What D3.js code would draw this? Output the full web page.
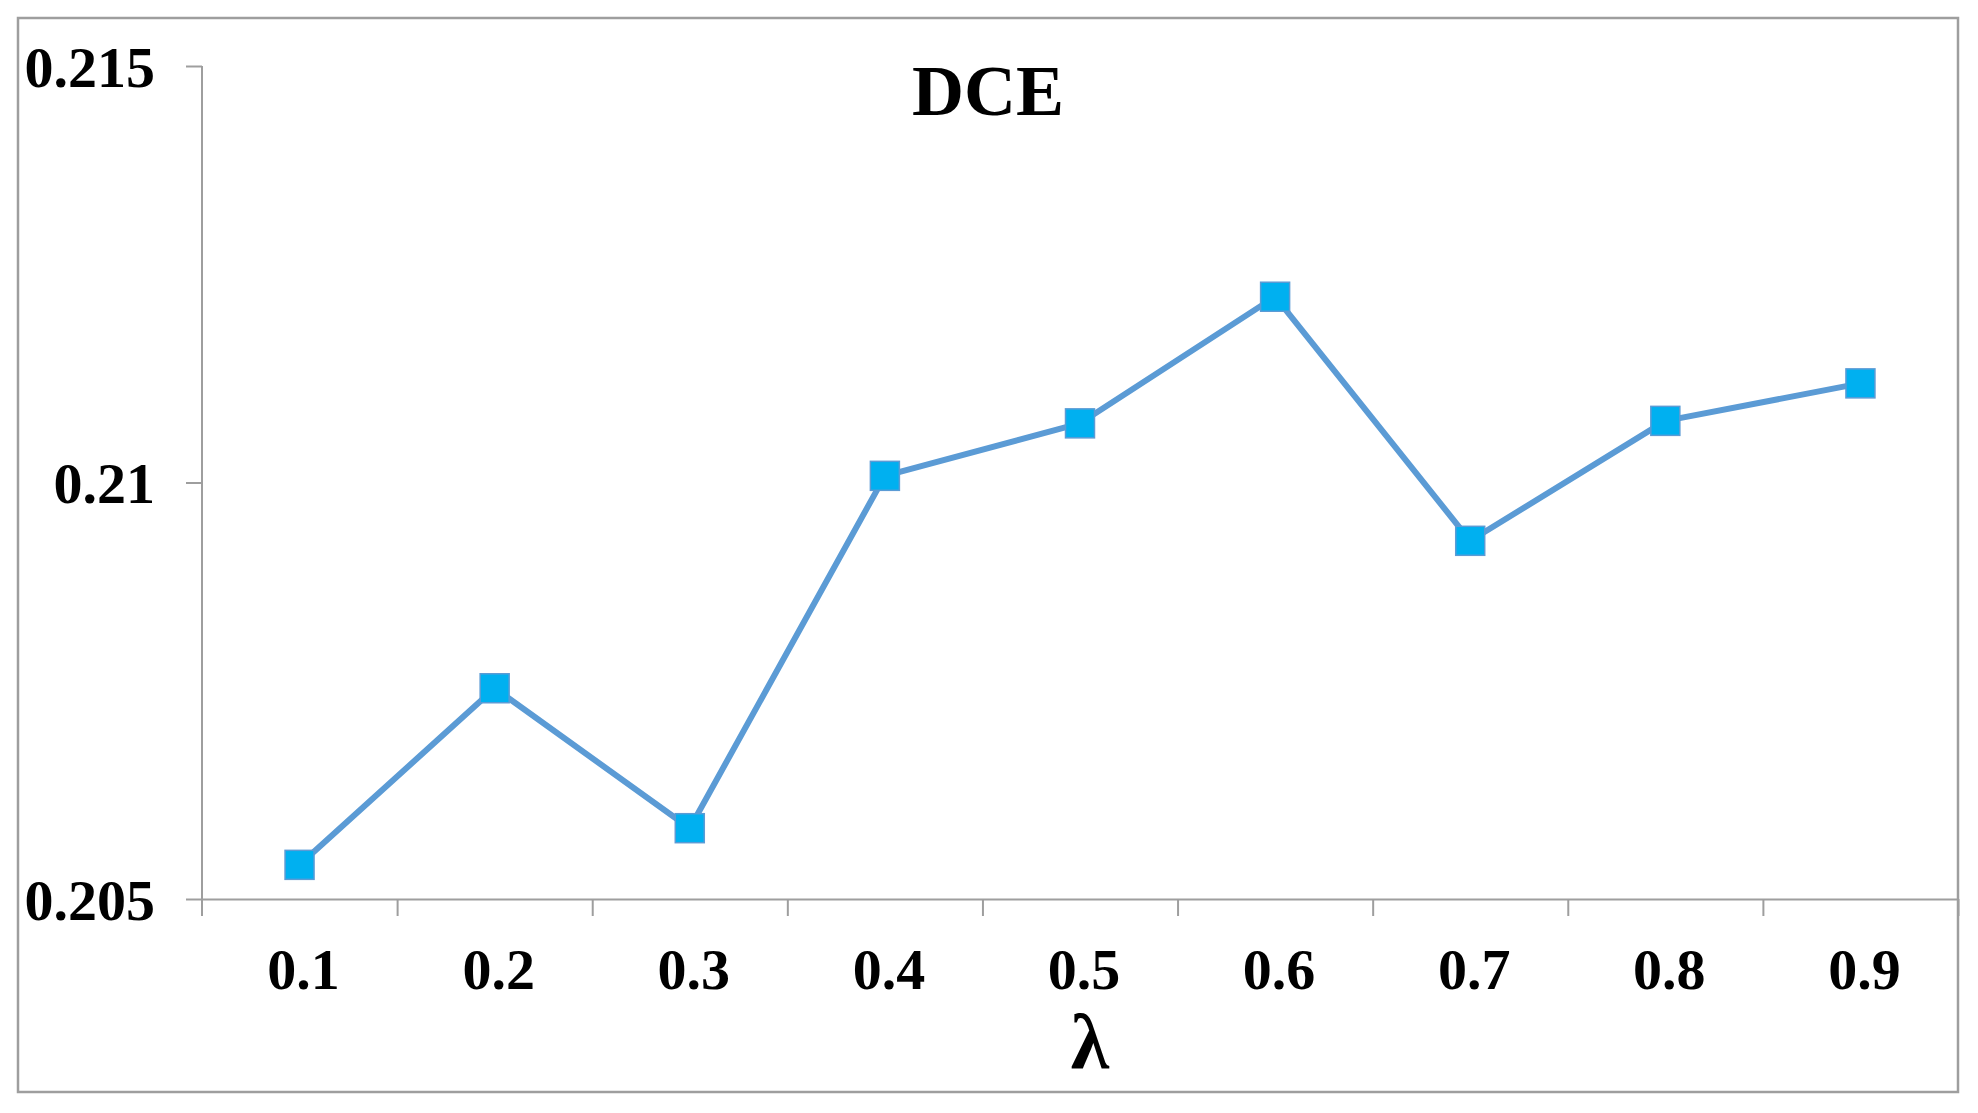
<!DOCTYPE html>
<html>
<head>
<meta charset="utf-8">
<script src="https://cdn.jsdelivr.net/npm/d3@7"></script>
<style>
    body { margin: 0; background: #fff; }
    svg { display: block; }
    .axis path, .axis line { stroke: #9e9e9e; stroke-width: 2px; }
    .axis text { font-family: "Liberation Serif", "Times New Roman", serif; font-weight: bold; font-size: 58px; fill: #000; }
</style>
</head>
<body>
<div id="chart"></div>
<script>
    // values
    const lambdas = ["0.1", "0.2", "0.3", "0.4", "0.5", "0.6", "0.7", "0.8", "0.9"];
    const dce = [0.20541, 0.20753, 0.20585, 0.21008, 0.21071, 0.21223, 0.20930, 0.21074, 0.21119];
    const yTicks = [0.205, 0.21, 0.215];
    const yTickLabels = ["0.205", "0.21", "0.215"];

    const width = 1978;
    const height = 1113;
    const plot = {left: 202, right: 1958, top: 66, bottom: 899};

    const svg = d3.select("#chart").append("svg")
        .attr("width", width)
        .attr("height", height)
        .attr("viewBox", "0 0 " + width + " " + height);

    svg.append("rect")
        .attr("width", width)
        .attr("height", height)
        .style("fill", "#fff");

    // outer chart frame
    svg.append("rect")
        .attr("x", 18)
        .attr("y", 18)
        .attr("width", 1940)
        .attr("height", 1074)
        .style("fill", "none")
        .style("stroke", "#9e9e9e")
        .style("stroke-width", "2.5px");

    const x = d3.scaleBand()
        .domain(lambdas)
        .range([plot.left, plot.right])
        .padding(0);

    // category boundaries, used for the tick marks
    const xEdge = d3.scaleLinear()
        .domain([0, lambdas.length])
        .range([plot.left, plot.right]);

    const y = d3.scaleLinear()
        .domain([yTicks[0], yTicks[yTicks.length - 1]])
        .range([plot.bottom, plot.top]);

    // Y axis
    const yAxis = svg.append("g")
        .attr("class", "axis")
        .attr("transform", "translate(" + plot.left + ",0)")
        .call(d3.axisLeft(y)
            .tickValues(yTicks)
            .tickFormat(function (d, i) {
                return yTickLabels[i];
            })
            .tickSize(16)
            .tickSizeOuter(0)
            .tickPadding(31));
    yAxis.select(".domain").remove();
    yAxis.append("line")
        .attr("x1", 0).attr("x2", 0)
        .attr("y1", plot.top).attr("y2", plot.bottom + 17);
    yAxis.selectAll("text").attr("dy", "0.35em");

    // X axis tick marks at category edges
    svg.append("g")
        .attr("class", "axis")
        .attr("transform", "translate(0," + plot.bottom + ")")
        .call(d3.axisBottom(xEdge)
            .tickValues(d3.range(1, lambdas.length + 1))
            .tickFormat("")
            .tickSize(17)
            .tickSizeOuter(0));

    // X axis labels centred in each category
    const xAxis = svg.append("g")
        .attr("class", "axis")
        .attr("transform", "translate(0," + plot.bottom + ")")
        .call(d3.axisBottom(x).tickSize(0).tickSizeOuter(0));
    xAxis.select(".domain").remove();
    xAxis.selectAll("text")
        .attr("x", 4)
        .attr("y", 90)
        .attr("dy", 0);

    // series line
    const line = d3.line()
        .x(function (d, i) {
            return x(lambdas[i]) + x.bandwidth() / 2;
        })
        .y(function (d) {
            return y(d);
        });

    svg.append("path")
        .datum(dce)
        .attr("d", line)
        .style("fill", "none")
        .style("stroke", "#5b9bd5")
        .style("stroke-width", "6px")
        .style("stroke-linejoin", "round");

    const markerSize = 29;
    svg.selectAll(".marker")
        .data(dce)
        .enter().append("rect")
        .attr("class", "marker")
        .attr("x", function (d, i) {
            return x(lambdas[i]) + x.bandwidth() / 2 - markerSize / 2;
        })
        .attr("y", function (d) {
            return y(d) - markerSize / 2;
        })
        .attr("width", markerSize)
        .attr("height", markerSize)
        .style("fill", "#00b0f0")
        .style("stroke", "#5b9bd5")
        .style("stroke-width", "1.5px");

    // title and axis name
    svg.append("text")
        .attr("x", 988)
        .attr("y", 115)
        .attr("text-anchor", "middle")
        .style("font-family", "'Liberation Serif', 'Times New Roman', serif")
        .style("font-weight", "bold")
        .style("font-size", "72px")
        .text("DCE");

    svg.append("text")
        .attr("x", 1090)
        .attr("y", 1068)
        .attr("text-anchor", "middle")
        .style("font-family", "'Liberation Serif', 'Times New Roman', serif")
        .style("font-weight", "bold")
        .style("font-size", "78px")
        .text("λ");
</script>
</body>
</html>
